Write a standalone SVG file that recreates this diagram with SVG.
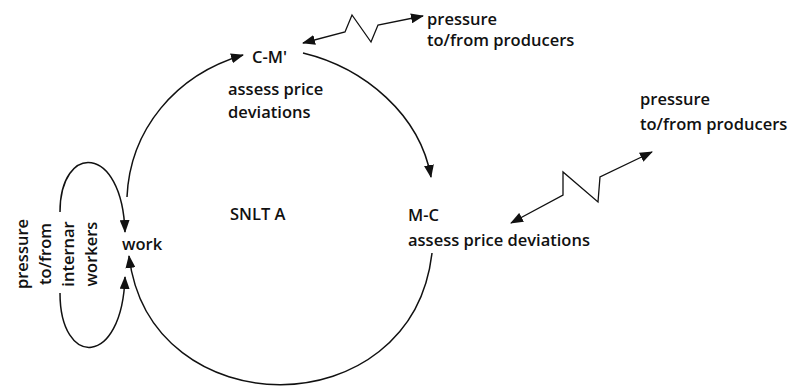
<svg xmlns="http://www.w3.org/2000/svg" width="797" height="387" viewBox="0 0 797 387">
  <style>
    .lbl { font-family: "Open Sans", "Noto Sans", "Liberation Sans", sans-serif; font-size: 16.5px; font-weight: 600; fill: #111; }
    .edge { fill: none; stroke: #111; stroke-width: 1.5; }
    .thin { fill: none; stroke: #111; stroke-width: 1.3; }
  </style>
  <defs>
    <marker id="arrow" markerUnits="userSpaceOnUse" viewBox="0 0 13 10" refX="12" refY="5" markerWidth="13" markerHeight="10" orient="auto-start-reverse">
      <path d="M0,0 L13,5 L0,10 z" fill="#111"/>
    </marker>
  </defs>

  <g id="connectors">
    <!-- circuit of capital around SNLT A -->
    <path class="edge" d="M127,197 C 130,130 175,75 243,55" marker-end="url(#arrow)"/>
    <path class="edge" d="M303,53 C 365,68 420,115 431,177" marker-end="url(#arrow)"/>
    <path class="edge" d="M432,253 C 412,428 150,428 129,256" marker-end="url(#arrow)"/>
    <!-- loop with internal workers -->
    <path class="edge" d="M60,212 C 60,143 122,143 125,232" marker-end="url(#arrow)"/>
    <path class="edge" d="M60,293 C 60,368 122,368 125,277" marker-end="url(#arrow)"/>
    <!-- pressure links to producers -->
    <path class="thin" d="M303,43 L345,32 L352,15 L371,42 L378,25 L423,16" marker-start="url(#arrow)" marker-end="url(#arrow)"/>
    <path class="thin" d="M511,223 L563,195 L563,172 L598,202 L600,177 L652,152" marker-start="url(#arrow)" marker-end="url(#arrow)"/>
  </g>

  <g id="node-cm">
    <text class="lbl" x="252" y="63">C-M'</text>
    <text class="lbl" x="228" y="95">assess price</text>
    <text class="lbl" x="228" y="118">deviations</text>
  </g>

  <g id="node-producers-top">
    <text class="lbl" x="427" y="25">pressure</text>
    <text class="lbl" x="427" y="46">to/from producers</text>
  </g>

  <g id="node-producers-right">
    <text class="lbl" x="640" y="105">pressure</text>
    <text class="lbl" x="640" y="130">to/from producers</text>
  </g>

  <g id="node-mc">
    <text class="lbl" x="408" y="221">M-C</text>
    <text class="lbl" x="408" y="246">assess price deviations</text>
  </g>

  <g id="node-snlt">
    <text class="lbl" x="230" y="220">SNLT A</text>
  </g>

  <g id="node-work">
    <text class="lbl" x="122" y="250">work</text>
  </g>

  <g id="node-workers">
    <text class="lbl" text-anchor="middle" transform="translate(28,254) rotate(-90)">pressure</text>
    <text class="lbl" text-anchor="middle" transform="translate(51,254) rotate(-90)">to/from</text>
    <text class="lbl" text-anchor="middle" transform="translate(74,254) rotate(-90)">internar</text>
    <text class="lbl" text-anchor="middle" transform="translate(97,254) rotate(-90)">workers</text>
  </g>
</svg>
